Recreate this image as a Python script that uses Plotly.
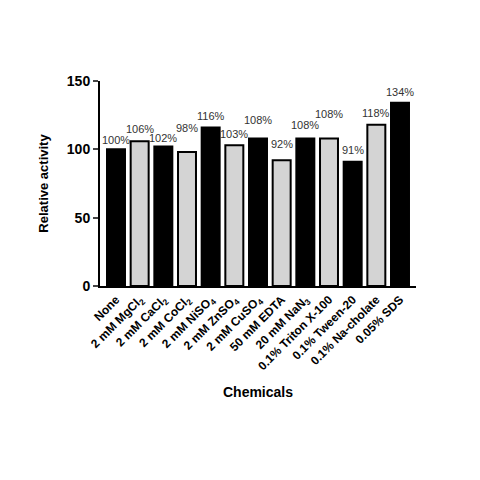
import plotly.graph_objects as go

chemicals = [
    "None", "2 mM MgCl<sub>2</sub>", "2 mM CaCl<sub>2</sub>", "2 mM CoCl<sub>2</sub>",
    "2 mM NiSO<sub>4</sub>", "2 mM ZnSO<sub>4</sub>", "2 mM CuSO<sub>4</sub>",
    "50 mM EDTA", "20 mM NaN<sub>3</sub>", "0.1% Triton X-100", "0.1% Tween-20",
    "0.1% Na-cholate", "0.05% SDS",
]
activity = [100, 106, 102, 98, 116, 103, 108, 92, 108, 108, 91, 118, 134]
labels = [f"{v}%" for v in activity]
y_ticks = [0, 50, 100, 150]
colors = ["black" if i % 2 == 0 else "#d4d4d4" for i in range(len(activity))]
# pixel lift of each percentage label above its bar (labels are staggered)
label_lift = [9, 12, 9, 24, 11, 11, 18, 16, 13, 24, 12, 12, 11]

fig = go.Figure()
fig.add_bar(
    x=chemicals,
    y=activity,
    marker=dict(color=colors, line=dict(color="black", width=2)),
)
for c, v, t, lift in zip(chemicals, activity, labels, label_lift):
    fig.add_annotation(
        x=c, y=v, text=t, showarrow=False, yanchor="middle", yshift=lift,
        font=dict(size=11, color="#333333", family="Arial"),
    )

fig.update_yaxes(
    range=[0, 150],
    tickvals=y_ticks,
    ticktext=[f"<b>{t}</b>" for t in y_ticks],
    ticks="outside",
    ticklen=5,
    tickwidth=2,
    showline=True,
    linewidth=2,
    linecolor="black",
    showgrid=False,
    zeroline=False,
    automargin=False,
    tickfont=dict(size=14, family="Arial", color="black"),
    title=dict(text="<b>Relative activity</b>", font=dict(size=13, family="Arial", color="black"), standoff=15),
)
fig.update_xaxes(
    tickvals=chemicals,
    ticktext=[f"<b>{c}</b>" for c in chemicals],
    tickangle=-45,
    showline=True,
    linewidth=2,
    linecolor="black",
    showgrid=False,
    automargin=False,
    tickfont=dict(size=12, family="Arial", color="black"),
    title=dict(text="<b>Chemicals</b>", font=dict(size=14, family="Arial", color="black"), standoff=15),
)
fig.update_layout(
    width=480,
    height=480,
    margin=dict(l=92, r=72, t=73, b=202),
    bargap=0.24,
    showlegend=False,
    plot_bgcolor="white",
    paper_bgcolor="white",
)
fig.write_html("out.html")
